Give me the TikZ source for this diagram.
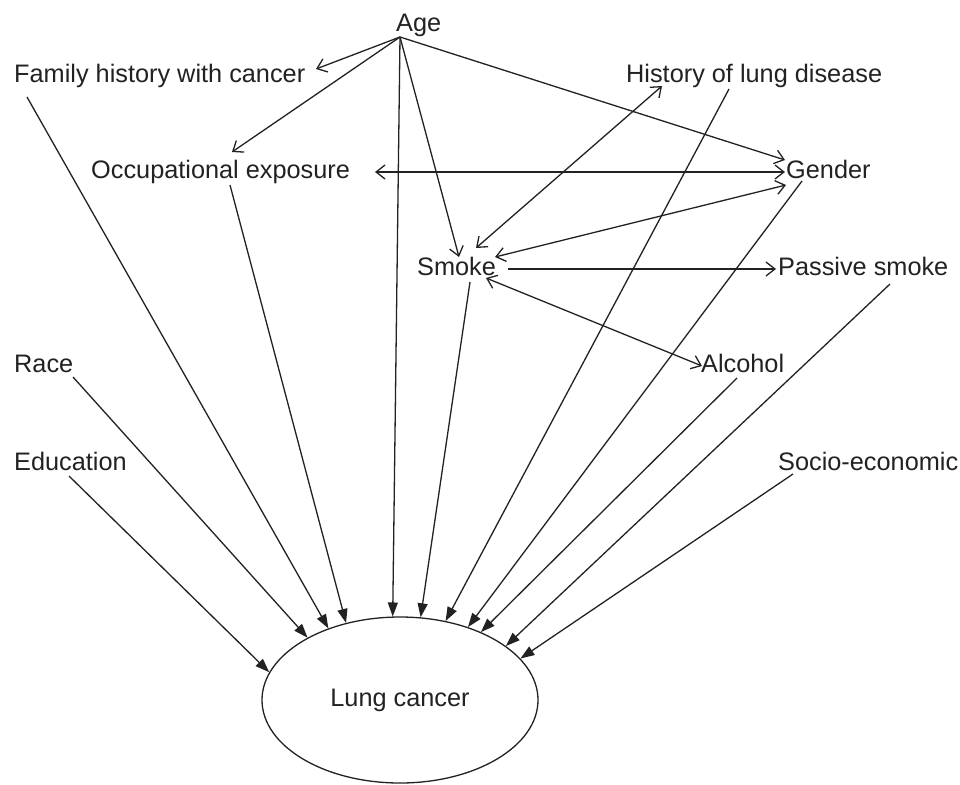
\documentclass[tikz,border=0pt]{standalone}
\usepackage{fontspec}
\setmainfont{Liberation Sans}
\usetikzlibrary{arrows.meta,shapes.geometric}
\definecolor{ink}{HTML}{222222}
\begin{document}
\begin{tikzpicture}[x=1pt,y=-1pt,
  lbl/.style={anchor=base west,inner sep=0pt,text=ink,font=\fontsize{25.3}{29}\selectfont},
  conn/.style={draw=ink,line width=1.3pt},
  opentip/.style={conn,-{Straight Barb[length=9pt,width=14pt,line width=1.3pt]}},
  bothtip/.style={conn,{Straight Barb[length=9pt,width=14pt,line width=1.3pt]}-{Straight Barb[length=9pt,width=14pt,line width=1.3pt]}},
  filltip/.style={conn,-{Triangle[length=14pt,width=10pt]}}]
\useasboundingbox (0,0) rectangle (960,784);
\fill[white] (0,0) rectangle (960,784);

% nodes
\node[lbl] (age)  at (396,32)  {Age};
\node[lbl] (fam)  at (14,82)   {Family history with cancer};
\node[lbl] (hist) at (626,82)  {History of lung disease};
\node[lbl] (occ)  at (91,178)  {Occupational exposure};
\node[lbl] (gen)  at (786,178) {Gender};
\node[lbl] (smk)  at (417,275) {Smoke};
\node[lbl] (pas)  at (778,275) {Passive smoke};
\node[lbl] (race) at (14,372)  {Race};
\node[lbl] (alc)  at (701,372) {Alcohol};
\node[lbl] (edu)  at (14,470)  {Education};
\node[lbl] (soc)  at (778,470) {Socio-economic};
\node[draw=ink,line width=1.3pt,ellipse,minimum width=276pt,minimum height=166pt,inner sep=0pt,
      text=ink,font=\fontsize{25.3}{29}\selectfont] (lc) at (400,700) {Lung cancer};

% ports
\coordinate (age-o) at (400,37);
\coordinate (fam-i) at (316,69);
\coordinate (occ-i) at (232,152);
\coordinate (smk-ia) at (459,257);
\coordinate (gen-ia) at (785,160);
\coordinate (fam-o) at (27,97);
\coordinate (occ-o) at (230,185);
\coordinate (occ-b) at (375,172);
\coordinate (gen-b) at (785,172);
\coordinate (hist-o) at (729,89);
\coordinate (hist-t) at (662,86);
\coordinate (smk-h) at (476,248);
\coordinate (smk-g) at (495,257);
\coordinate (gen-s) at (786,185);
\coordinate (smk-p) at (508,269);
\coordinate (pas-i) at (776,269);
\coordinate (smk-a) at (486,278);
\coordinate (alc-i) at (702,366);
\coordinate (smk-o) at (470,282);
\coordinate (gen-o) at (802,181);
\coordinate (alc-o) at (737,378);
\coordinate (pas-o) at (890,284);
\coordinate (race-o) at (73,377);
\coordinate (edu-o) at (69,476);
\coordinate (soc-o) at (793,474);

% connectors among factors
\draw[opentip] (age-o) -- (fam-i);
\draw[opentip] (age-o) -- (occ-i);
\draw[opentip] (age-o) -- (smk-ia);
\draw[opentip] (age-o) -- (gen-ia);
\draw[bothtip] (occ-b) -- (gen-b);
\draw[bothtip] (smk-h) -- (hist-t);
\draw[bothtip] (smk-g) -- (gen-s);
\draw[opentip] (smk-p) -- (pas-i);
\draw[bothtip] (smk-a) -- (alc-i);

% connectors into lung cancer
\draw[filltip] (edu-o) -- (lc.168.4);
\draw[filltip] (race-o) -- (lc.146.2);
\draw[filltip] (fam-o) -- (lc.135);
\draw[filltip] (occ-o) -- (lc.125.9);
\draw[filltip] (age-o) -- (lc.95.5);
\draw[filltip] (smk-o) -- (lc.76.5);
\draw[filltip] (hist-o) -- (lc.60.2);
\draw[filltip] (gen-o) -- (lc.47.7);
\draw[filltip] (alc-o) -- (lc.40.9);
\draw[filltip] (pas-o) -- (lc.27.4);
\draw[filltip] (soc-o) -- (lc.19.8);
\end{tikzpicture}
\end{document}
